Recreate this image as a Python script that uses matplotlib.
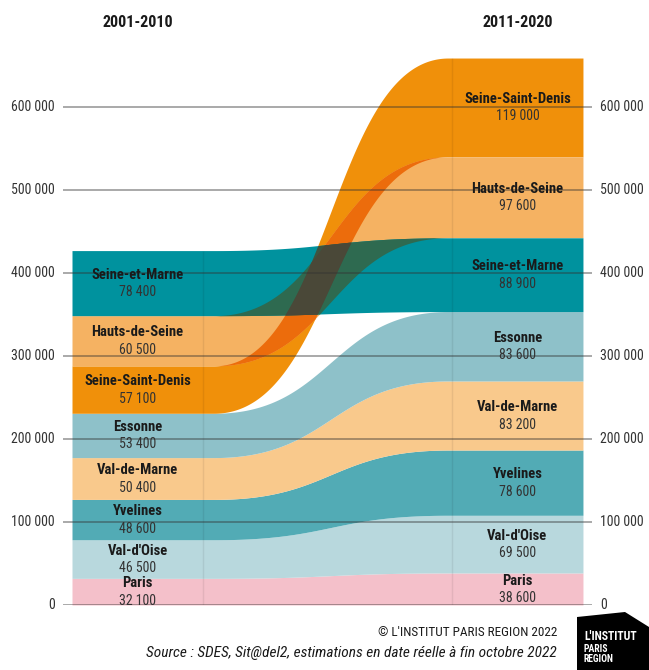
import numpy as np
import matplotlib
matplotlib.use('Agg')
import matplotlib.pyplot as plt
from matplotlib.patches import Polygon

plt.rcParams['font.family'] = ['Roboto Condensed', 'Liberation Sans Narrow',
                               'Roboto', 'DejaVu Sans']

# données (logements commencés par département)
departements = ['Paris', "Val-d'Oise", 'Yvelines', 'Val-de-Marne', 'Essonne',
                'Seine-Saint-Denis', 'Hauts-de-Seine', 'Seine-et-Marne']
val_2001_2010 = [32100, 46500, 48600, 50400, 53400, 57100, 60500, 78400]
val_2011_2020 = [38600, 69500, 78600, 83200, 83600, 119000, 97600, 88900]
# ordre d'empilement (bas -> haut) pour chaque période
ordre_gauche = ['Paris', "Val-d'Oise", 'Yvelines', 'Val-de-Marne', 'Essonne',
                'Seine-Saint-Denis', 'Hauts-de-Seine', 'Seine-et-Marne']
ordre_droite = ['Paris', "Val-d'Oise", 'Yvelines', 'Val-de-Marne', 'Essonne',
                'Seine-et-Marne', 'Hauts-de-Seine', 'Seine-Saint-Denis']
periodes = ['2001-2010', '2011-2020']
yticks = [0, 100000, 200000, 300000, 400000, 500000, 600000]

couleurs = {
    'Paris': '#F4C0CA',
    "Val-d'Oise": '#B8D8DD',
    'Yvelines': '#52ABB5',
    'Val-de-Marne': '#F9C98C',
    'Essonne': '#8EC1C9',
    'Seine-Saint-Denis': '#F0900A',
    'Hauts-de-Seine': '#F5B262',
    'Seine-et-Marne': '#00929E',
}
# couleurs des zones de superposition
chevauchements = [
    (('Seine-Saint-Denis', 'Hauts-de-Seine'), '#EC6C0C'),
    (('Seine-et-Marne', 'Hauts-de-Seine'), '#2E6A50'),
    (('Seine-et-Marne', 'Seine-Saint-Denis'), '#3E5440'),
    (('Seine-et-Marne', 'Seine-Saint-Denis', 'Hauts-de-Seine'), '#4A4838'),
]


def fmt(v):
    return f'{v:,}'.replace(',', ' ')


v1 = dict(zip(departements, val_2001_2010))
v2 = dict(zip(departements, val_2011_2020))

bas1, cum = {}, 0
for d in ordre_gauche:
    bas1[d] = cum
    cum += v1[d]
bas2, cum = {}, 0
for d in ordre_droite:
    bas2[d] = cum
    cum += v2[d]

# géométrie : barre gauche [0,1], barre droite [2.9,3.9], flux entre les deux
bar_w = 1.0
x_g, x_d = bar_w, 2.9
f_g, f_d = 1.08, 2.87
t = np.linspace(0, 1, 300)
xb = f_g + (f_d - f_g) * (1.5 * t * (1 - t) + t ** 3)
fb = 3 * t ** 2 - 2 * t ** 3
xs = np.concatenate([[0], xb, [x_d + bar_w]])
fs = np.concatenate([[0], fb, [1]])

bas, haut = {}, {}
for d in departements:
    bas[d] = bas1[d] + (bas2[d] - bas1[d]) * fs
    haut[d] = bas1[d] + v1[d] + (bas2[d] + v2[d] - bas1[d] - v1[d]) * fs

fig = plt.figure(figsize=(6.49, 6.70), dpi=100)
ax = fig.add_axes([63 / 649, 65 / 670, 529 / 649, 547.8 / 670])
ax.set_xlim(-0.0687, 3.969)
ax.set_ylim(0, 660000)
ax.axis('off')

for d in departements:
    ax.fill_between(xs, bas[d], haut[d], color=couleurs[d], lw=0, zorder=1)

for groupe, c in chevauchements:
    lo = np.max([bas[d] for d in groupe], axis=0)
    hi = np.min([haut[d] for d in groupe], axis=0)
    ax.fill_between(xs, lo, hi, where=hi > lo, interpolate=True,
                    color=c, lw=0, zorder=2)

# légers traits aux bords des barres
ax.vlines(x_g, 0, sum(val_2001_2010), color='k', alpha=0.07, lw=1, zorder=3)
ax.vlines(x_d, 0, sum(val_2011_2020), color='k', alpha=0.07, lw=1, zorder=3)

# grille
for y in yticks:
    ax.axhline(y, color='#333333', alpha=0.45, lw=1.3, zorder=4)
    ax.text(-0.13, y, fmt(y), ha='right', va='center', fontsize=10,
            color='#333333', clip_on=False)
    ax.text(4.03, y, fmt(y), ha='left', va='center', fontsize=10,
            color='#333333', clip_on=False)

# étiquettes
for d in departements:
    for xc, b, v in [(bar_w / 2, bas1[d], v1[d]),
                     (x_d + bar_w / 2, bas2[d], v2[d])]:
        yc = b + v / 2
        ax.annotate(d, (xc, yc), xytext=(0, 6), textcoords='offset points',
                    ha='center', va='center', fontsize=10.5, fontweight='bold',
                    color='#1a1a1a', zorder=5)
        ax.annotate(fmt(v), (xc, yc), xytext=(0, -6.5), textcoords='offset points',
                    ha='center', va='center', fontsize=10, color='#333333',
                    zorder=5)

ax.text(bar_w / 2, 702000, periodes[0], ha='center', va='center',
        fontsize=11.5, fontweight='bold', color='#1a1a1a', clip_on=False)
ax.text(x_d + bar_w / 2, 702000, periodes[1], ha='center', va='center',
        fontsize=11.5, fontweight='bold', color='#1a1a1a', clip_on=False)

# pied de page
fig.text(557 / 649, 1 - 633 / 670, "© L'INSTITUT PARIS REGION 2022",
         ha='right', va='center', fontsize=9.5, color='#1a1a1a')
fig.text(557 / 649, 1 - 653 / 670,
         'Source : SDES, Sit@del2, estimations en date réelle à fin octobre 2022',
         ha='right', va='center', fontsize=11.1, style='italic', color='#1a1a1a')

# logo
pts = [(577, 617), (625, 612), (649, 627), (649, 670), (577, 670)]
logo = Polygon([(px / 649, 1 - py / 670) for px, py in pts], closed=True,
               facecolor='black', edgecolor='none', transform=fig.transFigure)
fig.patches.append(logo)
fig.text(584 / 649, 1 - 636 / 670, "L'INSTITUT", ha='left', va='center',
         fontsize=8.5, fontweight='bold', color='white')
fig.text(584 / 649, 1 - 649 / 670, 'PARIS', ha='left', va='center',
         fontsize=7, fontweight='bold', color='white')
fig.text(584 / 649, 1 - 659 / 670, 'REGION', ha='left', va='center',
         fontsize=7, fontweight='bold', color='white')

fig.savefig('out.png', dpi=100)
